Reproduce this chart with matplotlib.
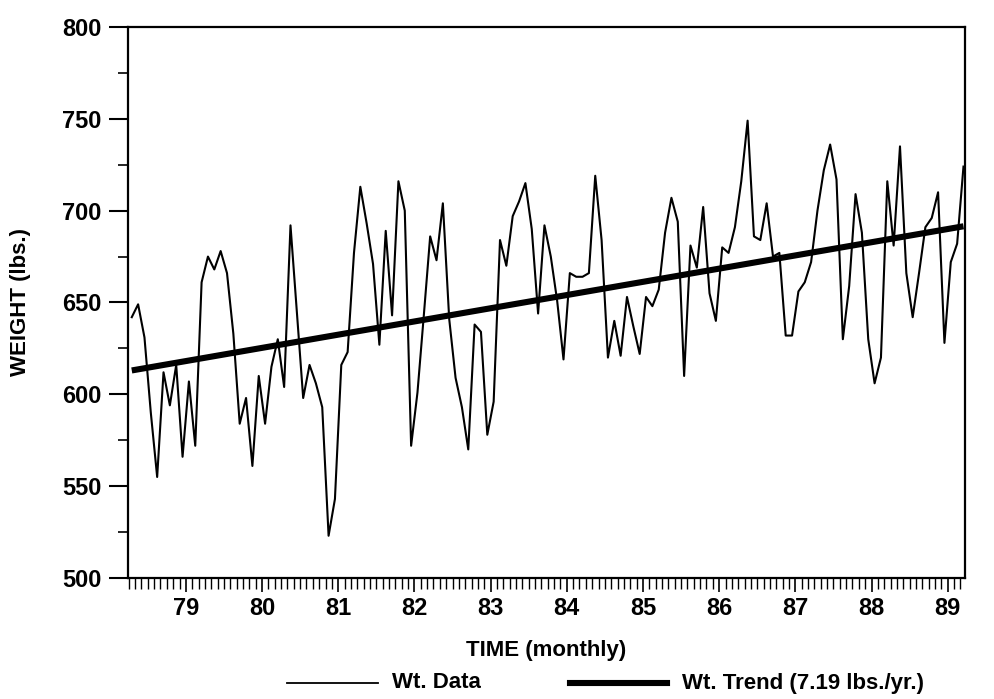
import numpy as np
import matplotlib
matplotlib.use('Agg')
from matplotlib import pyplot as plt
from matplotlib.ticker import MultipleLocator
from matplotlib.lines import Line2D

plt.rcParams['font.family'] = ['Liberation Sans', 'DejaVu Sans']
plt.rcParams['font.weight'] = 'bold'

# monthly weight readings, first month at 78.29
start_year = 78.29
weight = [642, 649, 631, 590, 555, 612, 594, 616, 566, 607, 572, 661,
          675, 668, 678, 666, 633, 584, 598, 561, 610, 584, 615, 630,
          604, 692, 645, 598, 616, 606, 593, 523, 543, 616, 623, 677,
          713, 693, 671, 627, 689, 643, 716, 700, 572, 601, 643, 686,
          673, 704, 641, 609, 593, 570, 638, 634, 578, 596, 684, 670,
          697, 705, 715, 690, 644, 692, 675, 651, 619, 666, 664, 664,
          666, 719, 684, 620, 640, 621, 653, 637, 622, 653, 648, 657,
          688, 707, 694, 610, 681, 669, 702, 655, 640, 680, 677, 691,
          716, 749, 686, 684, 704, 675, 677, 632, 632, 656, 661, 672,
          700, 722, 736, 717, 630, 659, 709, 688, 630, 606, 620, 716,
          681, 735, 666, 642, 666, 691, 696, 710, 628, 672, 682, 724]

trend_start = 613.0
trend_slope = 7.19   # lbs per year

years = start_year + np.arange(len(weight)) / 12.0
trend = trend_start + trend_slope * (years - start_year)

fig = plt.figure(figsize=(9.95, 6.99), dpi=100)
ax = fig.add_axes([0.1286, 0.1731, 0.8412, 0.7883])

ax.plot(years, weight, color='black', lw=1.5)
ax.plot(years, trend, color='black', lw=4.4, solid_capstyle='butt')

ax.set_xlim(78.24, 89.226)
ax.set_ylim(500, 800)

ax.xaxis.set_minor_locator(MultipleLocator(1 / 12))
ax.yaxis.set_major_locator(MultipleLocator(50))
ax.yaxis.set_minor_locator(MultipleLocator(25))
ax.set_xticks(range(79, 90))
ax.set_xticklabels([str(y) for y in range(79, 90)])

ax.tick_params(axis='x', which='major', direction='out', length=10, width=1.2,
               pad=4, labelsize=17)
ax.tick_params(axis='x', which='minor', direction='out', length=8, width=1.0)
ax.tick_params(axis='y', which='major', direction='out', length=14, width=1.5,
               pad=5, labelsize=17)
ax.tick_params(axis='y', which='minor', direction='out', length=7, width=1.2)

for s in ax.spines.values():
    s.set_linewidth(1.6)

ax.set_xlabel('TIME (monthly)', fontsize=16, fontweight='bold')
ax.set_ylabel('WEIGHT (lbs.)', fontsize=16, fontweight='bold')
ax.xaxis.set_label_coords(0.5, -0.113)
ax.yaxis.set_label_coords(-0.116, 0.5)

# legend row under the x label
ly = 1 - 683 / 699
fig.add_artist(Line2D([287 / 995, 378 / 995], [ly, ly], color='black', lw=1.3))
fig.text(392 / 995, ly, 'Wt. Data', fontsize=16, fontweight='bold', va='center')
fig.add_artist(Line2D([570 / 995, 667 / 995], [ly, ly], color='black', lw=4.4))
fig.text(682 / 995, ly, 'Wt. Trend (7.19 lbs./yr.)', fontsize=16,
         fontweight='bold', va='center')

fig.savefig('out.png', dpi=100)
